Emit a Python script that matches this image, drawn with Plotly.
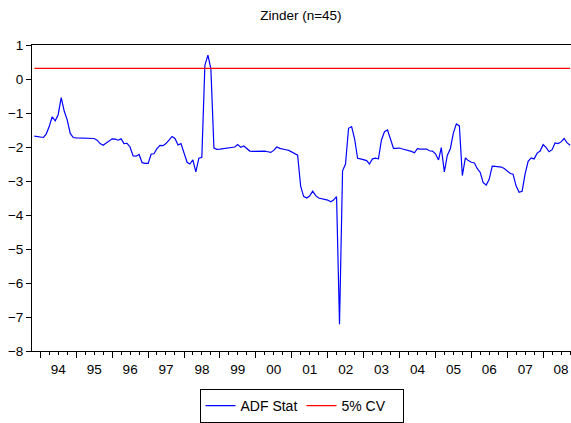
import pandas as pd
import plotly.graph_objects as go

# monthly rolling ADF statistic, Nov 1993 - Oct 2008
start_month = "1993-11-01"
adf_stat = [
    -1.68, -1.70, -1.71, -1.72, -1.62, -1.40, -1.11, -1.23, -1.05, -0.55,
    -0.95, -1.20, -1.60, -1.72, -1.73, -1.73, -1.74, -1.73, -1.73, -1.73,
    -1.75, -1.80, -1.90, -1.95, -1.89, -1.82, -1.76, -1.77, -1.80, -1.76,
    -1.90, -1.89, -2.00, -2.26, -2.27, -2.22, -2.46, -2.48, -2.48, -2.21,
    -2.20, -2.05, -1.95, -1.96, -1.90, -1.80, -1.69, -1.75, -1.94, -1.90,
    -2.15, -2.45, -2.50, -2.38, -2.73, -2.33, -2.30, 0.40, 0.70, 0.30,
    -2.03, -2.07, -2.06, -2.05, -2.04, -2.03, -2.03, -2.00, -1.93, -2.01,
    -1.97, -2.04, -2.12, -2.13, -2.13, -2.12, -2.11, -2.12, -2.14, -2.16,
    -2.10, -2.00, -2.04, -2.07, -2.08, -2.10, -2.14, -2.20, -2.24, -3.15,
    -3.45, -3.50, -3.44, -3.30, -3.43, -3.50, -3.52, -3.54, -3.56, -3.61,
    -3.56, -3.46, -7.21, -2.70, -2.50, -1.45, -1.40, -1.75, -2.33, -2.35,
    -2.38, -2.40, -2.50, -2.35, -2.33, -2.35, -1.80, -1.55, -1.50, -1.75,
    -2.04, -2.04, -2.03, -2.06, -2.08, -2.10, -2.13, -2.17, -2.05, -2.06,
    -2.05, -2.06, -2.11, -2.12, -2.20, -2.38, -2.02, -2.73, -2.25, -2.05,
    -1.60, -1.32, -1.38, -2.84, -2.32, -2.40, -2.45, -2.47, -2.63, -2.75,
    -3.05, -3.12, -2.95, -2.56, -2.57, -2.58, -2.59, -2.63, -2.72, -2.78,
    -2.80, -3.15, -3.33, -3.30, -2.80, -2.42, -2.32, -2.35, -2.18, -2.12,
    -1.93, -2.02, -2.14, -2.08, -1.88, -1.90, -1.85, -1.75, -1.88, -1.95,
]
cv_5pct = 0.31

dates = pd.date_range(start_month, periods=len(adf_stat), freq="MS")
cv_line = [cv_5pct] * len(dates)

FONT = "Liberation Sans, Arial, sans-serif"

fig = go.Figure()
fig.add_trace(go.Scatter(x=dates, y=adf_stat, mode="lines", name="ADF Stat",
                         line=dict(color="#0000FF", width=1.2)))
fig.add_trace(go.Scatter(x=dates, y=cv_line, mode="lines", name="5% CV",
                         line=dict(color="#FF0000", width=1.2)))

fig.update_layout(
    width=571, height=423,
    margin=dict(l=32, r=0, t=45, b=72, autoexpand=False),
    paper_bgcolor="white", plot_bgcolor="white",
    font=dict(family=FONT, size=13, color="black"),
    title=dict(text="Zinder (n=45)", x=0.527, xanchor="center", y=0.965,
               yanchor="middle", font=dict(size=13.5, color="black")),
    showlegend=True,
    legend=dict(orientation="h", x=0.5, xanchor="center", y=-0.18, yanchor="middle",
                bordercolor="black", borderwidth=1, bgcolor="white",
                font=dict(size=14), itemwidth=30, entrywidth=56,
                tracegroupgap=0),
    xaxis=dict(
        type="date", automargin=False,
        range=["1993-10-08", "2008-10-10"],
        dtick="M12", tick0="1994-01-01", tickformat="%y",
        ticklabelmode="period",
        ticks="outside", ticklen=6, tickcolor="black", tickwidth=1,
        minor=dict(dtick="M3", tick0="1994-01-01", ticks="outside", ticklen=3,
                   tickcolor="black", tickwidth=1, showgrid=False),
        showline=True, linecolor="black", linewidth=1, mirror=True,
        showgrid=False, zeroline=False,
        tickfont=dict(size=13.5),
    ),
    yaxis=dict(
        automargin=False,
        range=[-8, 1], dtick=1, tick0=0,
        ticks="outside", ticklen=5, tickcolor="black", tickwidth=1,
        showline=True, linecolor="black", linewidth=1, mirror=False,
        showgrid=False, zeroline=False,
        tickfont=dict(size=13.5),
    ),
)

# drop the default page margin so the figure sits at the window's corner
fig.write_html("out.html", config={"displayModeBar": False},
               post_script="document.body.style.margin='0';")
